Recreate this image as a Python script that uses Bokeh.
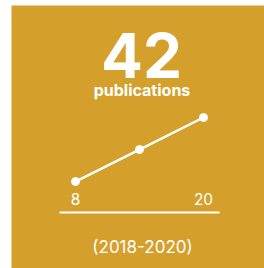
from bokeh.plotting import figure
from bokeh.models import Range1d
from bokeh.embed import file_html
from bokeh.resources import INLINE
from bokeh.core.properties import value

# data
years = [2018, 2019, 2020]
pubs = [8, 14, 20]
title_label = "publications"
period_label = "(2018-2020)"

GOLD = "#D4A02B"
WHITE = "#FFFFFF"
FONT = "Inter"

p = figure(width=264, height=268, output_backend="svg", toolbar_location=None,
           x_range=Range1d(11, 264), y_range=Range1d(268, 5),
           min_border_left=11, min_border_right=0, min_border_top=5, min_border_bottom=0,
           background_fill_color=GOLD, border_fill_color="white")
p.axis.visible = False
p.grid.visible = False
p.outline_line_color = None

p.extra_x_ranges = {"yr": Range1d(2017.0, 2020.953)}
p.extra_y_ranges = {"val": Range1d(-8.31, 41.0)}

# sparkline
p.line(years, pubs, x_range_name="yr", y_range_name="val", line_color=WHITE, line_width=2.5)
p.scatter(years, pubs, x_range_name="yr", y_range_name="val", size=8,
          fill_color=WHITE, line_color=WHITE)

# big number
p.text(x=[141], y=[55], text=[str(sum(pubs))], text_font=value(FONT), text_font_size="62px",
       text_font_style="bold", text_color=WHITE, text_align="center", text_baseline="alphabetic")
p.text(x=[141.5], y=[89], text=[title_label], text_font=value(FONT), text_font_size="16px",
       text_font_style="bold", text_color=WHITE, text_align="center", text_baseline="alphabetic")

# end labels
p.text(x=[years[0], years[-1]], y=[198, 198], text=[str(pubs[0]), str(pubs[-1])],
       x_range_name="yr", text_font=value(FONT), text_font_size="15.5px",
       text_color=WHITE, text_align="center", text_baseline="alphabetic")

# rule
p.segment(x0=[59], y0=[212], x1=[219], y1=[212], line_color=WHITE, line_width=2)

p.text(x=[142], y=[246], text=[period_label], text_font=value(FONT), text_font_size="17px",
       text_color=WHITE, text_align="center", text_baseline="alphabetic")

open("out.html", "w").write(file_html(p, INLINE))
